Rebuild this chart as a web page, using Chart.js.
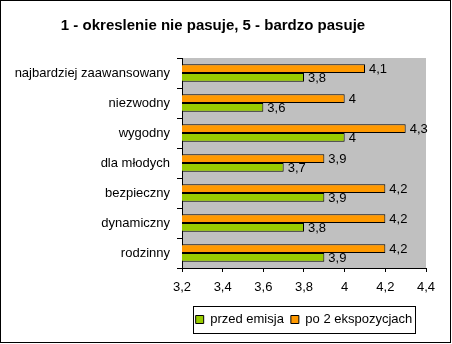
<!DOCTYPE html>
<html>
<head>
<meta charset="utf-8">
<script src="https://cdn.jsdelivr.net/npm/chart.js@4/dist/chart.umd.min.js"></script>
<style>
  html, body { margin: 0; padding: 0; background: #fff; }
  #wrap { width: 452px; height: 344px; }
</style>
</head>
<body>
<div id="wrap"><canvas id="chart" width="452" height="344"></canvas></div>
<script>
let categories = ['najbardziej zaawansowany', 'niezwodny', 'wygodny', 'dla młodych', 'bezpieczny', 'dynamiczny', 'rodzinny'];
let przedEmisja = [3.8, 3.6, 4, 3.7, 3.9, 3.8, 3.9];
let po2Ekspozycjach = [4.1, 4, 4.3, 3.9, 4.2, 4.2, 4.2];
let xTicks = [3.2, 3.4, 3.6, 3.8, 4, 4.2, 4.4];

const FONT = 'Liberation Sans, Arial, sans-serif';

function fmt(v) {
    return String(v).replace('.', ',');
}

// grey plot area, outer frame, legend box; legend centred under the plot
const decor = {
    id: 'decor',
    afterLayout(chart) {
        let a = chart.chartArea;
        chart.legend.left = a.left;
        chart.legend.right = a.right;
    },
    beforeDraw(chart) {
        let ctx = chart.ctx;
        let a = chart.chartArea;
        ctx.save();
        ctx.fillStyle = '#fff';
        ctx.fillRect(0, 0, chart.width, chart.height);
        ctx.fillStyle = '#c0c0c0';
        ctx.fillRect(a.left, a.top, a.right - a.left, a.bottom - a.top);
        ctx.restore();
    },
    afterDraw(chart) {
        let ctx = chart.ctx;
        ctx.save();
        ctx.strokeStyle = '#000';
        ctx.lineWidth = 1;
        ctx.strokeRect(0.5, 0.5, 450, 342);
        let hb = chart.legend.legendHitBoxes;
        if (hb && hb.length) {
            let first = hb[0], last = hb[hb.length - 1];
            let cy = first.top + first.height / 2;
            let l = Math.round(first.left) - 2.5;
            let r = Math.round(last.left + last.width) + 3.5;
            ctx.strokeRect(l, Math.round(cy) - 13.5, r - l, 27);
        }
        ctx.restore();
    }
};

// value labels right of the bars
const valueLabels = {
    id: 'valueLabels',
    afterDatasetsDraw(chart) {
        let ctx = chart.ctx;
        ctx.save();
        ctx.font = '13px ' + FONT;
        ctx.fillStyle = '#000';
        ctx.textAlign = 'left';
        ctx.textBaseline = 'middle';
        chart.data.datasets.forEach((ds, i) => {
            chart.getDatasetMeta(i).data.forEach((bar, j) => {
                ctx.fillText(fmt(ds.data[j]), bar.x + 4, bar.y + 1);
            });
        });
        ctx.restore();
    }
};

new Chart(document.getElementById('chart'), {
    type: 'bar',
    data: {
        labels: categories,
        datasets: [
            {
                label: 'po 2 ekspozycjach',
                data: po2Ekspozycjach,
                backgroundColor: '#ff9900',
                borderColor: '#000',
                borderWidth: 1,
                borderSkipped: false
            },
            {
                label: 'przed emisja',
                data: przedEmisja,
                backgroundColor: '#99cc00',
                borderColor: '#000',
                borderWidth: 1,
                borderSkipped: false
            }
        ]
    },
    options: {
        indexAxis: 'y',
        responsive: false,
        animation: false,
        devicePixelRatio: 1,
        layout: { padding: { top: 0, left: 0, right: 26, bottom: 8 } },
        datasets: { bar: { categoryPercentage: 0.58, barPercentage: 1 } },
        scales: {
            x: {
                min: 3.2,
                max: 4.4,
                afterBuildTicks: s => { s.ticks = xTicks.map(v => ({ value: v })); },
                afterFit: s => { s.height = 38; },
                border: { color: '#000', width: 1 },
                grid: { drawOnChartArea: false, color: '#000', tickLength: 4 },
                ticks: {
                    color: '#000',
                    font: { family: FONT, size: 13 },
                    padding: 8,
                    callback: v => fmt(v)
                }
            },
            y: {
                afterFit: s => { s.width = 182; },
                border: { color: '#000', width: 1 },
                grid: { offset: true, drawOnChartArea: false, color: '#000', tickLength: 5 },
                ticks: {
                    color: '#000',
                    font: { family: FONT, size: 13 },
                    padding: 7
                }
            }
        },
        plugins: {
            title: {
                display: true,
                text: '1 - okreslenie nie pasuje, 5 - bardzo pasuje',
                color: '#000',
                font: { family: FONT, size: 15, weight: 'bold' },
                padding: { top: 17, bottom: 23 }
            },
            legend: {
                position: 'bottom',
                reverse: true,
                labels: {
                    color: '#000',
                    font: { family: FONT, size: 13 },
                    boxWidth: 8,
                    boxHeight: 8,
                    padding: 7
                }
            },
            tooltip: { enabled: false }
        }
    },
    plugins: [decor, valueLabels]
});
</script>
</body>
</html>
